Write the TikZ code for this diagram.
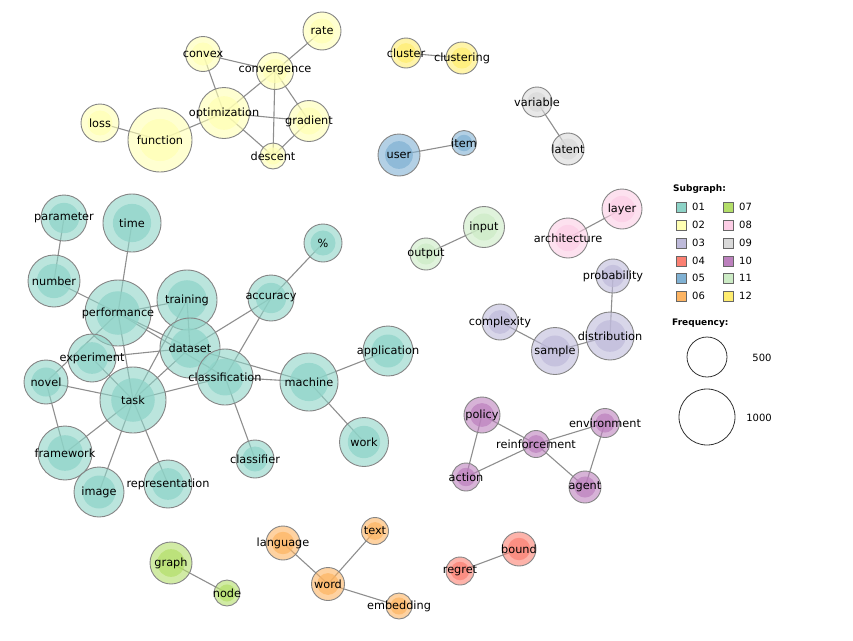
\documentclass[tikz,border=0pt]{standalone}
\usepackage{fontspec}
\setmainfont{DejaVu Sans}
\usepackage{tikz}
\usetikzlibrary{backgrounds}
\usepackage{xcolor}

% subgraph colours
\definecolor{c01}{HTML}{8DD3C7}
\definecolor{c02}{HTML}{FFFFB3}
\definecolor{c03}{HTML}{BEBADA}
\definecolor{c04}{HTML}{FB8072}
\definecolor{c05}{HTML}{80B1D3}
\definecolor{c06}{HTML}{FDB462}
\definecolor{c07}{HTML}{B3DE69}
\definecolor{c08}{HTML}{FCCDE5}
\definecolor{c09}{HTML}{D9D9D9}
\definecolor{c10}{HTML}{BC80BD}
\definecolor{c11}{HTML}{CCEBC5}
\definecolor{c12}{HTML}{FFED6F}
\definecolor{rimgray}{HTML}{858585}
\definecolor{linkgray}{HTML}{8E8E8E}

\begin{document}
\begin{tikzpicture}[x=1pt, y=-1pt,
    kw/.style 2 args={circle, draw=rimgray, line width=0.9pt, fill=#1, fill opacity=0.6,
        text opacity=1, minimum size=2*#2, inner sep=0pt,
        path picture={\fill[#1, fill opacity=0.7] (path picture bounding box.center) circle ({0.66*#2pt});}},
    every label/.style={font=\fontsize{11.3}{13}\selectfont, text=black, text opacity=1, inner sep=0pt},
    link/.style={draw=linkgray, line width=1.1pt},
    swatch/.style={draw=black!60, line width=0.8pt, minimum size=10, inner sep=0pt},
    legtext/.style={font=\fontsize{10}{12}\selectfont, anchor=west, inner sep=0pt},
    legtitle/.style={font=\bfseries\fontsize{9}{11}\selectfont, anchor=west, inner sep=0pt},
    freq/.style={circle, draw=black!80, line width=0.8pt, inner sep=0pt, minimum size=2*#1}]
    \useasboundingbox (0,0) rectangle (853,640);

    % 01
    \node[kw={c01}{23}, label=center:parameter] (parameter) at (64,218) {};
    \node[kw={c01}{29}, label=center:time] (time) at (132,223) {};
    \node[kw={c01}{26}, label=center:number] (number) at (54,281) {};
    \node[kw={c01}{33}, label=center:performance] (performance) at (118,313) {};
    \node[kw={c01}{30}, label=center:training] (training) at (187,300) {};
    \node[kw={c01}{23}, label=center:accuracy] (accuracy) at (271,298) {};
    \node[kw={c01}{19}, label=center:\%] (pct) at (323,243) {};
    \node[kw={c01}{24}, label=center:experiment] (experiment) at (92,358) {};
    \node[kw={c01}{30}, label=center:dataset] (dataset) at (190,348) {};
    \node[kw={c01}{28}, label=center:classification] (classification) at (225,377) {};
    \node[kw={c01}{29}, label=center:machine] (machine) at (309,382) {};
    \node[kw={c01}{25}, label=center:application] (application) at (388,351) {};
    \node[kw={c01}{24.5}, label=center:work] (work) at (364,442) {};
    \node[kw={c01}{22}, label=center:novel] (novel) at (46,382) {};
    \node[kw={c01}{33}, label=center:task] (task) at (133,400) {};
    \node[kw={c01}{27}, label=center:framework] (framework) at (65,453) {};
    \node[kw={c01}{25}, label=center:image] (image) at (99,492) {};
    \node[kw={c01}{24}, label=center:representation] (representation) at (168,484) {};
    \node[kw={c01}{19}, label=center:classifier] (classifier) at (255,459) {};

    % 02
    \node[kw={c02}{19}, label=center:rate] (rate) at (322,31) {};
    \node[kw={c02}{17.5}, label=center:convex] (convex) at (203,54) {};
    \node[kw={c02}{18.5}, label=center:convergence] (convergence) at (275,71) {};
    \node[kw={c02}{25.5}, label=center:optimization] (optimization) at (224,113) {};
    \node[kw={c02}{20.5}, label=center:gradient] (gradient) at (309,121) {};
    \node[kw={c02}{19}, label=center:loss] (loss) at (100,123) {};
    \node[kw={c02}{32}, label=center:function] (function) at (160,140) {};
    \node[kw={c02}{13}, label=center:descent] (descent) at (273,156) {};

    % 03
    \node[kw={c03}{17}, label=center:probability] (probability) at (613,276) {};
    \node[kw={c03}{18}, label=center:complexity] (complexity) at (500,322) {};
    \node[kw={c03}{23.5}, label=center:sample] (sample) at (555,351) {};
    \node[kw={c03}{24}, label=center:distribution] (distribution) at (610,336) {};

    % 04
    \node[kw={c04}{14}, label=center:regret] (regret) at (460,571) {};
    \node[kw={c04}{17}, label=center:bound] (bound) at (519,549) {};

    % 05
    \node[kw={c05}{21}, label=center:user] (user) at (399,155) {};
    \node[kw={c05}{12.5}, label=center:item] (item) at (464,143) {};

    % 06
    \node[kw={c06}{17}, label=center:language] (language) at (283,543) {};
    \node[kw={c06}{13.5}, label=center:text] (text) at (375,531) {};
    \node[kw={c06}{16.5}, label=center:word] (word) at (328,584) {};
    \node[kw={c06}{13}, label=center:embedding] (embedding) at (399,606) {};

    % 07
    \node[kw={c07}{21}, label=center:graph] (graph) at (171,563) {};
    \node[kw={c07}{13}, label=center:node] (node) at (227,593) {};

    % 08
    \node[kw={c08}{20}, label=center:layer] (layer) at (622,209) {};
    \node[kw={c08}{20}, label=center:architecture] (architecture) at (568,238) {};

    % 09
    \node[kw={c09}{15}, label=center:variable] (variable) at (537,102) {};
    \node[kw={c09}{16}, label=center:latent] (latent) at (568,149) {};

    % 10
    \node[kw={c10}{18}, label=center:policy] (policy) at (482,415) {};
    \node[kw={c10}{14.5}, label=center:environment] (environment) at (605,423) {};
    \node[kw={c10}{13.5}, label=center:reinforcement] (reinforcement) at (536,444) {};
    \node[kw={c10}{14}, label=center:action] (action) at (466,477) {};
    \node[kw={c10}{16}, label=center:agent] (agent) at (585,487) {};

    % 11
    \node[kw={c11}{20.5}, label=center:input] (input) at (484,227) {};
    \node[kw={c11}{16}, label=center:output] (output) at (426,254) {};

    % 12
    \node[kw={c12}{15}, label=center:cluster] (cluster) at (406,53) {};
    \node[kw={c12}{16}, label=center:clustering] (clustering) at (462,58) {};

    % links, behind the circles
    \begin{scope}[on background layer]
        \draw[link] (parameter.center) -- (number.center);
        \draw[link] (number.center) -- (performance.center);
        \draw[link] (time.center) -- (performance.center);
        \draw[link] (performance.center) -- (training.center);
        \draw[link] (performance.center) -- (dataset.center);
        \draw[link] (performance.center) -- (classification.center);
        \draw[link] (performance.center) -- (task.center);
        \draw[link] (novel.center) -- (performance.center);
        \draw[link] (experiment.center) -- (dataset.center);
        \draw[link] (experiment.center) -- (task.center);
        \draw[link] (novel.center) -- (task.center);
        \draw[link] (novel.center) -- (framework.center);
        \draw[link] (task.center) -- (framework.center);
        \draw[link] (task.center) -- (image.center);
        \draw[link] (task.center) -- (representation.center);
        \draw[link] (task.center) -- (training.center);
        \draw[link] (task.center) -- (dataset.center);
        \draw[link] (task.center) -- (classification.center);
        \draw[link] (training.center) -- (dataset.center);
        \draw[link] (dataset.center) -- (accuracy.center);
        \draw[link] (classification.center) -- (accuracy.center);
        \draw[link] (accuracy.center) -- (pct.center);
        \draw[link] (dataset.center) -- (machine.center);
        \draw[link] (classification.center) -- (machine.center);
        \draw[link] (classification.center) -- (classifier.center);
        \draw[link] (machine.center) -- (application.center);
        \draw[link] (machine.center) -- (work.center);

        \draw[link] (convex.center) -- (convergence.center);
        \draw[link] (convex.center) -- (optimization.center);
        \draw[link] (convergence.center) -- (rate.center);
        \draw[link] (convergence.center) -- (optimization.center);
        \draw[link] (convergence.center) -- (gradient.center);
        \draw[link] (convergence.center) -- (descent.center);
        \draw[link] (optimization.center) -- (gradient.center);
        \draw[link] (optimization.center) -- (descent.center);
        \draw[link] (gradient.center) -- (descent.center);
        \draw[link] (optimization.center) -- (function.center);
        \draw[link] (function.center) -- (loss.center);

        \draw[link] (probability.center) -- (distribution.center);
        \draw[link] (complexity.center) -- (sample.center);
        \draw[link] (sample.center) -- (distribution.center);
        \draw[link] (regret.center) -- (bound.center);
        \draw[link] (user.center) -- (item.center);
        \draw[link] (language.center) -- (word.center);
        \draw[link] (text.center) -- (word.center);
        \draw[link] (word.center) -- (embedding.center);
        \draw[link] (graph.center) -- (node.center);
        \draw[link] (layer.center) -- (architecture.center);
        \draw[link] (variable.center) -- (latent.center);
        \draw[link] (policy.center) -- (reinforcement.center);
        \draw[link] (policy.center) -- (action.center);
        \draw[link] (action.center) -- (reinforcement.center);
        \draw[link] (reinforcement.center) -- (environment.center);
        \draw[link] (reinforcement.center) -- (agent.center);
        \draw[link] (environment.center) -- (agent.center);
        \draw[link] (input.center) -- (output.center);
        \draw[link] (cluster.center) -- (clustering.center);
    \end{scope}

    % legend
    \node[legtitle] (subgraph) at (673,189) {Subgraph:};
    \node[swatch, fill=c01] (sw01) at (681,207) {};
    \node[legtext] at (692,207) {01};
    \node[swatch, fill=c02] (sw02) at (681,225) {};
    \node[legtext] at (692,225) {02};
    \node[swatch, fill=c03] (sw03) at (681,243) {};
    \node[legtext] at (692,243) {03};
    \node[swatch, fill=c04] (sw04) at (681,261) {};
    \node[legtext] at (692,261) {04};
    \node[swatch, fill=c05] (sw05) at (681,278) {};
    \node[legtext] at (692,278) {05};
    \node[swatch, fill=c06] (sw06) at (681,296) {};
    \node[legtext] at (692,296) {06};
    \node[swatch, fill=c07] (sw07) at (728,207) {};
    \node[legtext] at (739,207) {07};
    \node[swatch, fill=c08] (sw08) at (728,225) {};
    \node[legtext] at (739,225) {08};
    \node[swatch, fill=c09] (sw09) at (728,243) {};
    \node[legtext] at (739,243) {09};
    \node[swatch, fill=c10] (sw10) at (728,261) {};
    \node[legtext] at (739,261) {10};
    \node[swatch, fill=c11] (sw11) at (728,278) {};
    \node[legtext] at (739,278) {11};
    \node[swatch, fill=c12] (sw12) at (728,296) {};
    \node[legtext] at (739,296) {12};

    \node[legtitle] (frequency) at (672,323) {Frequency:};
    \node[freq=20] (f500) at (707,357) {};
    \node[legtext, anchor=center] at (762,358) {500};
    \node[freq=28] (f1000) at (707,417) {};
    \node[legtext, anchor=center] at (759,418) {1000};
\end{tikzpicture}
\end{document}
